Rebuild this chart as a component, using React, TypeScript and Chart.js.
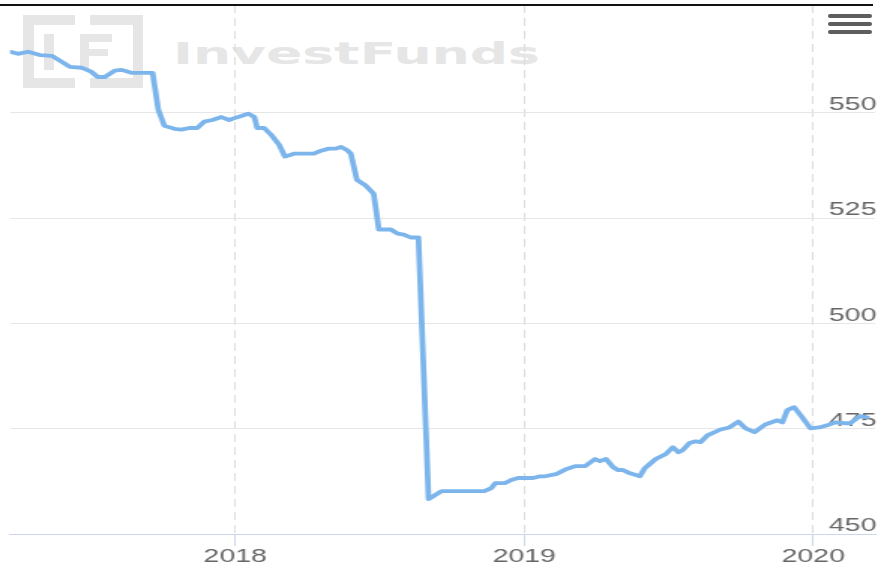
import React, { useEffect, useRef } from "react";
import { Chart, registerables } from "chart.js";

Chart.register(...registerables);

// Time positions as decimal years
const TIME: number[] = [
  2017.221, 2017.248, 2017.283, 2017.324, 2017.366, 2017.4, 2017.428, 2017.469, 2017.503, 2017.524,
  2017.548, 2017.583, 2017.607, 2017.641, 2017.714, 2017.734, 2017.755, 2017.79, 2017.814, 2017.841,
  2017.869, 2017.893, 2017.921, 2017.952, 2017.979, 2018.0, 2018.024, 2018.045, 2018.066, 2018.076,
  2018.1, 2018.124, 2018.152, 2018.172, 2018.203, 2018.272, 2018.297, 2018.324, 2018.348, 2018.366,
  2018.386, 2018.4, 2018.421, 2018.452, 2018.479, 2018.497, 2018.538, 2018.562, 2018.583, 2018.607,
  2018.634, 2018.669, 2018.714, 2018.862, 2018.886, 2018.9, 2018.934, 2018.955, 2018.979, 2019.031,
  2019.055, 2019.072, 2019.11, 2019.145, 2019.176, 2019.21, 2019.245, 2019.262, 2019.283, 2019.307,
  2019.324, 2019.341, 2019.366, 2019.4, 2019.417, 2019.455, 2019.49, 2019.514, 2019.534, 2019.548,
  2019.572, 2019.593, 2019.61, 2019.634, 2019.679, 2019.71, 2019.741, 2019.766, 2019.797, 2019.834,
  2019.876, 2019.893, 2019.91, 2019.934, 2019.962, 2019.99, 2020.021, 2020.048, 2020.076, 2020.107,
  2020.128, 2020.162, 2020.186,
];

const PRICE: number[] = [
  564.5, 564.0, 564.5, 563.7, 563.5, 562.1, 560.9, 560.7, 559.7, 558.5,
  558.5, 560.0, 560.2, 559.5, 559.5, 550.7, 546.9, 546.2, 546.0, 546.4,
  546.4, 547.9, 548.3, 549.0, 548.3, 548.8, 549.3, 549.8, 549.0, 546.4,
  546.4, 544.8, 542.4, 539.6, 540.3, 540.3, 541.0, 541.5, 541.5, 541.9,
  541.2, 540.3, 534.1, 532.7, 530.8, 522.3, 522.3, 521.3, 521.1, 520.4,
  520.4, 458.3, 460.2, 460.2, 460.9, 462.1, 462.1, 462.8, 463.3, 463.3,
  463.7, 463.7, 464.2, 465.4, 466.1, 466.1, 467.8, 467.3, 467.8, 465.9,
  465.2, 465.2, 464.4, 463.7, 465.6, 467.8, 469.0, 470.6, 469.4, 469.9,
  471.6, 472.0, 471.8, 473.4, 474.8, 475.3, 476.7, 475.1, 474.2, 476.0,
  477.0, 476.5, 479.4, 480.1, 477.7, 475.1, 475.3, 475.8, 476.5, 476.3,
  476.3, 478.0, 477.7,
];

const X_TICKS: number[] = [2018, 2019, 2020];
const Y_TICKS: number[] = [450, 475, 500, 525, 550];
const X_MIN = 2017.2207;
const X_MAX = 2020.2138;
const Y_MIN = 450;
const Y_MAX = 575.6;
const WATERMARK = "InvestFunds";

const W = 878;
const H = 567;
const STRETCH = 1.5;
const CW = Math.round(W / STRETCH);

export default function App() {
  const ref = useRef<HTMLCanvasElement>(null);

  useEffect(() => {
    const canvas = ref.current;
    if (!canvas) return;
    const tickFont = { family: "'Liberation Sans', Arial, sans-serif", size: 19, lineHeight: 1 };
    const noPad = (s: any) => {
      s.paddingTop = 0;
      s.paddingBottom = 0;
    };
    const chart = new Chart(canvas, {
      type: "line",
      data: {
        datasets: [
          {
            data: TIME.map((t, i) => ({ x: t, y: PRICE[i] })),
            borderColor: "#7cb5ec",
            backgroundColor: "#7cb5ec",
            borderWidth: 3.8,
            pointRadius: 0,
            tension: 0,
            borderJoinStyle: "round",
            borderCapStyle: "round",
            fill: false,
            yAxisID: "y",
          },
        ],
      },
      options: {
        animation: false,
        responsive: false,
        events: [],
        layout: { padding: { left: 10 / STRETCH, top: 5, right: 0, bottom: 0 } },
        plugins: { legend: { display: false }, tooltip: { enabled: false } },
        scales: {
          x: {
            type: "linear",
            min: X_MIN,
            max: X_MAX,
            afterBuildTicks: (s: any) => {
              s.ticks = X_TICKS.map((v) => ({ value: v }));
            },
            grid: {
              color: "#dcdcdc",
              lineWidth: 1,
              drawTicks: true,
              tickLength: 12,
              tickColor: "#ccd6eb",
              tickWidth: 1,
              tickBorderDash: [],
            },
            border: { display: true, color: "#ccd6eb", width: 1, dash: [8, 5] },
            ticks: {
              autoSkip: false,
              maxRotation: 0,
              padding: 1,
              color: "#666666",
              font: tickFont,
              callback: (v: any) => String(v),
            },
          },
          y: {
            position: "right",
            min: Y_MIN,
            max: Y_MAX,
            afterBuildTicks: (s: any) => {
              s.ticks = Y_TICKS.map((v) => ({ value: v }));
            },
            afterFit: noPad,
            grid: { color: "#e6e6e6", lineWidth: 1, drawTicks: false },
            border: { display: false },
            ticks: { display: false },
          },
          yLabels: {
            position: "right",
            z: 1,
            min: Y_MIN,
            max: Y_MAX,
            afterBuildTicks: (s: any) => {
              s.ticks = Y_TICKS.map((v) => ({ value: v }));
            },
            afterFit: noPad,
            grid: { display: false, drawTicks: false },
            border: { display: false },
            ticks: {
              mirror: true,
              padding: 1,
              labelOffset: -8,
              color: "#666666",
              font: tickFont,
              callback: (v: any) => String(v),
            },
          },
        },
      },
    } as any);
    return () => chart.destroy();
  }, []);

  const wm = "#e6e6e6";
  return (
    <div
      style={{
        position: "absolute",
        left: 0,
        top: 0,
        width: W,
        height: H,
        overflow: "hidden",
        background: "#ffffff",
      }}
    >
      <svg width={W} height={H} style={{ position: "absolute", left: 0, top: 0 }}>
        {/* watermark logo */}
        <rect x={23} y={15} width={52} height={10} fill={wm} />
        <rect x={23} y={15} width={11} height={73} fill={wm} />
        <rect x={23} y={78} width={52} height={10} fill={wm} />
        <rect x={44} y={34} width={10} height={36} fill={wm} />
        <rect x={80} y={34} width={9} height={36} fill={wm} />
        <rect x={80} y={34} width={32} height={8} fill={wm} />
        <rect x={80} y={49} width={28} height={7} fill={wm} />
        <rect x={90} y={15} width={53} height={10} fill={wm} />
        <rect x={133} y={15} width={10} height={73} fill={wm} />
        <rect x={90} y={78} width={53} height={10} fill={wm} />
        <text
          x={173}
          y={64}
          fill={wm}
          fontFamily="'DejaVu Sans', 'Liberation Sans', sans-serif"
          fontWeight="bold"
          fontSize={30}
          textLength={367}
          lengthAdjust="spacingAndGlyphs"
        >
          {WATERMARK}
        </text>
      </svg>
      <canvas
        ref={ref}
        width={CW}
        height={H}
        style={{ position: "absolute", left: 0, top: 0, width: W + "px", height: H + "px" }}
      />
      <div style={{ position: "absolute", left: 0, top: 4, width: 873, height: 2, background: "#111" }} />
      {[14, 22, 30].map((t) => (
        <div
          key={t}
          style={{
            position: "absolute",
            left: 828,
            top: t,
            width: 44,
            height: 4,
            borderRadius: 2,
            background: "#5e5e5e",
          }}
        />
      ))}
    </div>
  );
}
